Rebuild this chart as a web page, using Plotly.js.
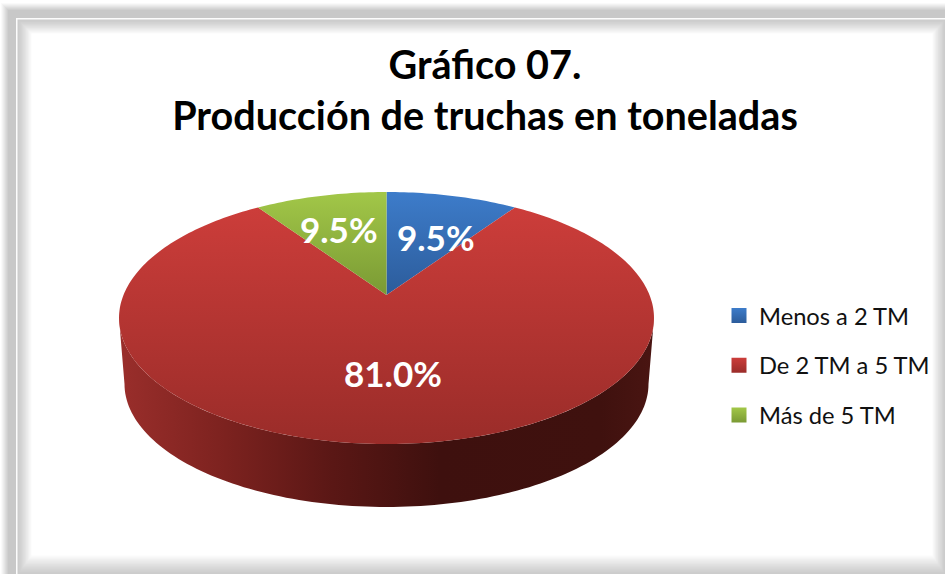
<!DOCTYPE html>
<html>
<head>
<meta charset="utf-8">
<script src="https://cdn.plot.ly/plotly-3.0.1.min.js"></script>
<style>html,body{margin:0;padding:0;background:#fff}#chart{width:945px;height:574px}
#chart text{font-variant-ligatures:none}</style>
</head>
<body>
<div id="chart"></div>
<script>
// Data
const categories = ['Menos a 2 TM', 'De 2 TM a 5 TM', 'Más de 5 TM'];
const values = [9.5, 81.0, 9.5];
const chartTitle = 'Gráfico 07.<br>Producción de truchas en toneladas';

// Styles
const faceTop = ['#3d7cca', '#cc3d3a', '#a2c748'];
const faceBottom = ['#2c5c9b', '#9a2c29', '#7a9a34'];
const wallStops = [[0, '#9a2e2b'], [0.2, '#7c221f'], [0.4, '#5a1715'], [0.6, '#3e100e'], [0.9, '#3f110e'], [1, '#4a1512']];
const labelAnchors = [[436, 237], [393, 373], [339, 229]];

// Perspective geometry of the disc, in page pixels
const disc = {cx: 386.5, tipY: 295, a: 263, b: 121.8, k: -0.1825};
const rim = {cx: 386.5, cy: 318, rx: 267.5, ry: 126};
const base = {cx: 386.5, cy: 384, rx: 262, ry: 123};

function project(theta) {
  const u = Math.sin(theta), v = -Math.cos(theta), d = 1 + disc.k * v;
  return [disc.cx + disc.a * u / d, disc.tipY + disc.b * v / d];
}

function wedge(start, end) {
  const xs = [disc.cx], ys = [disc.tipY];
  const steps = Math.max(4, Math.ceil((end - start) / 0.02));
  for (let i = 0; i <= steps; i++) {
    const p = project(start + (end - start) * i / steps);
    xs.push(p[0]); ys.push(p[1]);
  }
  xs.push(disc.cx); ys.push(disc.tipY);
  return {xs, ys};
}

const total = values.reduce((s, v) => s + v, 0);
const traces = [];

// Side wall of the disc
const wx = [], wy = [];
for (let i = 0; i <= 120; i++) {
  const s = Math.PI * i / 120;
  wx.push(rim.cx - rim.rx * Math.cos(s)); wy.push(rim.cy + rim.ry * Math.sin(s));
}
for (let i = 120; i >= 0; i--) {
  const s = Math.PI * i / 120;
  wx.push(base.cx - base.rx * Math.cos(s)); wy.push(base.cy + base.ry * Math.sin(s));
}
traces.push({
  type: 'scatter', mode: 'none', x: wx, y: wy, fill: 'toself', showlegend: false, hoverinfo: 'skip',
  fillgradient: {type: 'horizontal', colorscale: wallStops}
});

// Top face wedges
let acc = 0;
values.forEach((v, i) => {
  const start = acc / total * 2 * Math.PI;
  acc += v;
  const w = wedge(start, acc / total * 2 * Math.PI);
  traces.push({
    type: 'scatter', mode: 'none', x: w.xs, y: w.ys, fill: 'toself', showlegend: false,
    name: categories[i], hoverinfo: 'name',
    fillgradient: {type: 'vertical', colorscale: [[0, faceBottom[i]], [1, faceTop[i]]]}
  });
});

// Legend entries
categories.forEach((c, i) => {
  traces.push({
    type: 'scatter', mode: 'markers', x: [null], y: [null], name: c, legendgroup: c, hoverinfo: 'skip',
    marker: {symbol: 'square', size: 15, color: faceTop[i], gradient: {type: 'vertical', color: faceBottom[i]}}
  });
});

// Frame
const shapes = [];
function lerp(a, b, t) { return Math.round(a + (b - a) * t); }
function grey(g) { return 'rgb(' + g + ',' + g + ',' + g + ')'; }
function box(l, t, r, b, g) {
  shapes.push({type: 'rect', xref: 'x', yref: 'y', x0: l, y0: t, x1: r, y1: b, layer: 'below', line: {width: 0}, fillcolor: grey(g)});
}
for (let i = 0; i <= 7; i++) box(1 + i, 3 + i, 960, 590, lerp(250, 200, i / 7));
box(16, 18, 960, 590, 252);
box(17.5, 19.5, 960, 590, 204);
const fade = 16;
for (let i = 1; i <= fade; i++) {
  const t = i / fade;
  box(18 + i * 0.85, 20 + i * 0.85, 945 - i * 0.78, 574 - i * 1.15, lerp(204, 255, Math.pow(t, 1.2)));
}

const annotations = labelAnchors.map((p, i) => ({
  xref: 'x', yref: 'y', x: p[0], y: p[1], showarrow: false, xanchor: 'center', yanchor: 'middle',
  text: values[i].toFixed(1) + '%',
  font: {family: 'Lato, "Open Sans", sans-serif', size: 35, color: '#ffffff', weight: 700}
}));

const layout = {
  width: 945, height: 574,
  margin: {l: 0, r: 0, t: 0, b: 0},
  paper_bgcolor: '#ffffff', plot_bgcolor: 'rgba(0,0,0,0)',
  showlegend: true,
  title: {
    text: chartTitle, x: 485 / 945, xanchor: 'center', y: 1 - 78.5 / 574, yanchor: 'top', yref: 'container',
    font: {family: 'Lato, "Open Sans", sans-serif', size: 39.6, color: '#000000', weight: 700}
  },
  xaxis: {range: [0, 945], visible: false, fixedrange: true},
  yaxis: {range: [574, 0], visible: false, fixedrange: true},
  legend: {
    x: 719 / 945, xanchor: 'left', y: 1 - 293.5 / 574, yanchor: 'top',
    bgcolor: 'rgba(0,0,0,0)', borderwidth: 0, tracegroupgap: 16, itemclick: false, itemdoubleclick: false,
    font: {family: 'Lato, "Open Sans", sans-serif', size: 23.7, color: '#111111'}
  },
  shapes, annotations
};

Plotly.newPlot('chart', traces, layout, {displayModeBar: false, staticPlot: true});
</script>
</body>
</html>
